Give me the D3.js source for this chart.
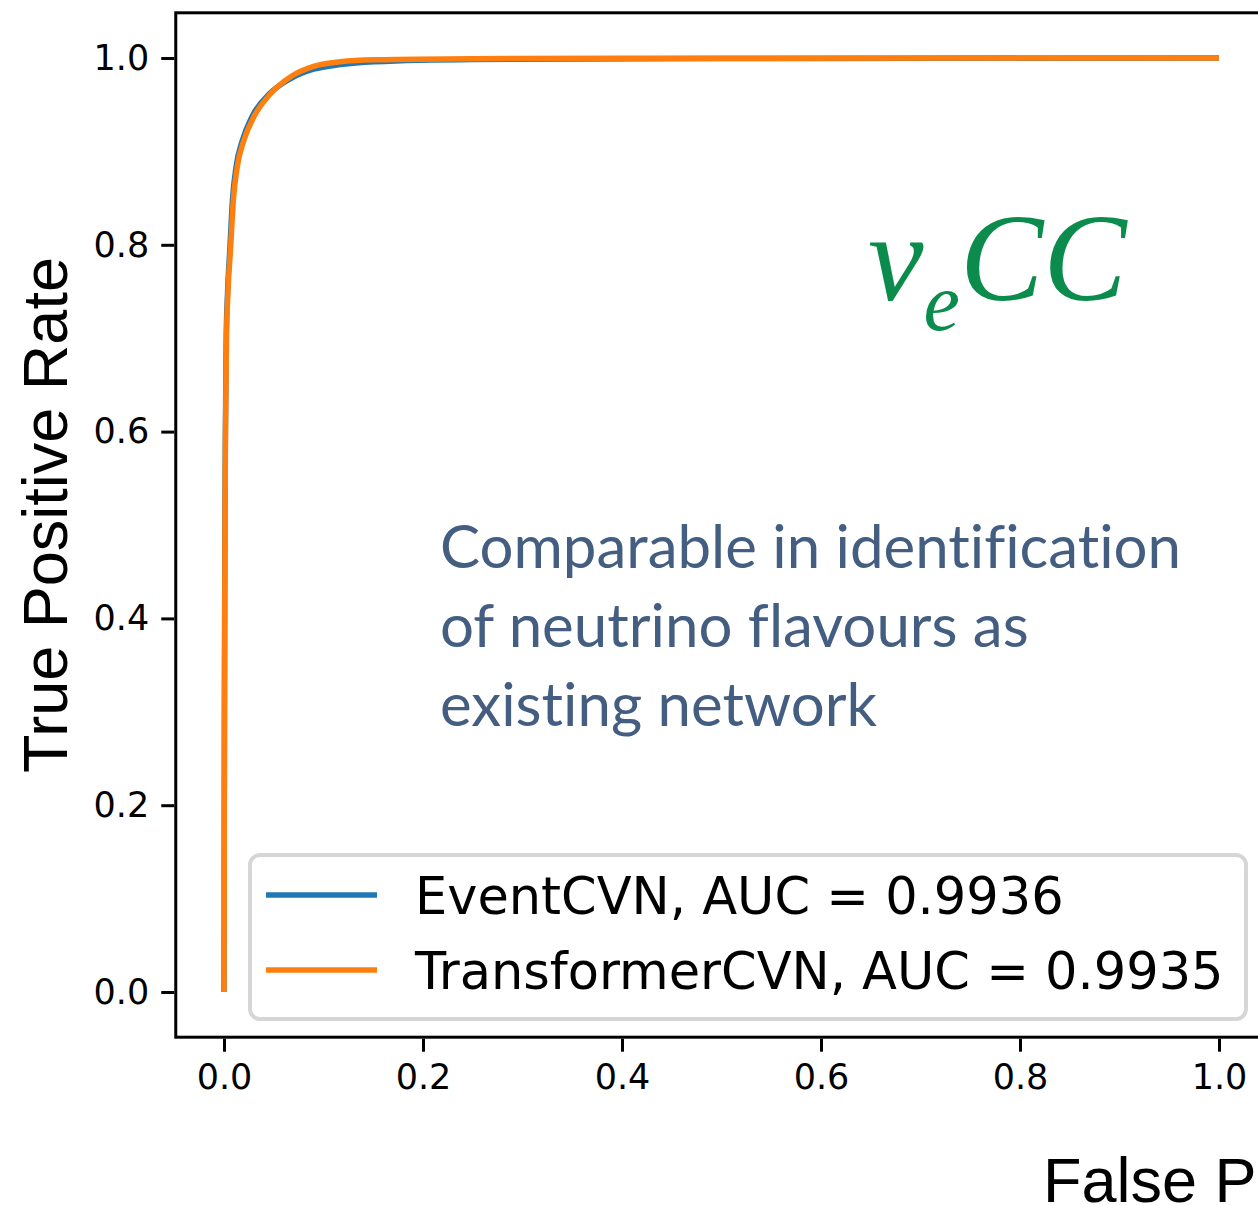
<!DOCTYPE html>
<html>
<head>
<meta charset="utf-8">
<script src="https://cdn.jsdelivr.net/npm/d3@7"></script>
<style>
  html, body { margin: 0; padding: 0; background: #fff; overflow: hidden; }
  svg { display: block; }
</style>
</head>
<body>
<svg id="chart" width="1258" height="1205"></svg>
<script>
// ---- data ----
const seriesNames = ["EventCVN", "TransformerCVN"];
const aucValues = ["0.9936", "0.9935"];
const seriesColors = ["#1f77b4", "#ff7f0e"];

const eventFpr = [0, 0.0004, 0.0009, 0.0014, 0.0022, 0.0036, 0.006, 0.0085, 0.0122, 0.0185, 0.028, 0.046, 0.067, 0.090, 0.117, 0.151, 0.25, 0.5, 1.0];
const eventTpr = [0, 0.3, 0.5, 0.6, 0.7, 0.75, 0.798, 0.848, 0.884, 0.912, 0.937, 0.962, 0.978, 0.988, 0.993, 0.996, 0.9985, 0.9995, 1.0];

const transFpr = [0, 0.0005, 0.001, 0.0015, 0.0025, 0.004, 0.0067, 0.0094, 0.0134, 0.020, 0.030, 0.047, 0.067, 0.090, 0.117, 0.151, 0.25, 0.5, 1.0];
const transTpr = [0, 0.3, 0.5, 0.6, 0.7, 0.75, 0.798, 0.848, 0.884, 0.912, 0.937, 0.962, 0.980, 0.991, 0.996, 0.998, 0.9993, 0.9998, 1.0];

const xTicks = [0.0, 0.2, 0.4, 0.6, 0.8, 1.0];
const yTicks = [0.0, 0.2, 0.4, 0.6, 0.8, 1.0];

const annotationLines = ["Comparable in identification", "of neutrino flavours as", "existing network"];

// ---- layout ----
const svg = d3.select("#chart");
const pLeft = 174.25, pRight = 1268.75, pTop = 11.3, pBottom = 1038.7;

const x = d3.scaleLinear().domain([-0.05, 1.05]).range([pLeft, pRight]);
const y = d3.scaleLinear().domain([-0.05, 1.05]).range([pBottom, pTop]);

const tickFont = "DejaVu Sans, sans-serif";

// axes
const xAxis = d3.axisBottom(x).tickValues(xTicks).tickFormat(d3.format(".1f")).tickSize(13).tickPadding(12);
const yAxis = d3.axisLeft(y).tickValues(yTicks).tickFormat(d3.format(".1f")).tickSize(13).tickPadding(12);

const gx = svg.append("g").attr("transform", `translate(0,${pBottom})`).call(xAxis);
const gy = svg.append("g").attr("transform", `translate(${pLeft},0)`).call(yAxis);
[gx, gy].forEach(g => {
  g.select(".domain").remove();
  g.selectAll(".tick line").attr("stroke", "#000").attr("stroke-width", 3);
  g.selectAll(".tick text").attr("fill", "#000").style("font-family", tickFont).style("font-size", "35px");
});

// curves
const line = d3.line().curve(d3.curveMonotoneX).x(d => x(d[0])).y(d => y(d[1]));
const curves = [
  d3.zip(eventFpr, eventTpr),
  d3.zip(transFpr, transTpr)
];
svg.append("clipPath").attr("id", "plotclip").append("rect")
  .attr("x", pLeft).attr("y", pTop).attr("width", pRight - pLeft).attr("height", pBottom - pTop);
curves.forEach((c, i) => {
  svg.append("path").datum(c)
    .attr("d", line)
    .attr("fill", "none")
    .attr("stroke", seriesColors[i])
    .attr("stroke-width", 5.5)
    .attr("stroke-linejoin", "round")
    .attr("clip-path", "url(#plotclip)");
});

// frame
svg.append("rect")
  .attr("x", pLeft + 1.5).attr("y", pTop + 1.5)
  .attr("width", pRight - pLeft - 3).attr("height", pBottom - pTop - 3)
  .attr("fill", "none").attr("stroke", "#000").attr("stroke-width", 3);

// green label
const green = svg.append("text")
  .attr("x", 868).attr("y", 300)
  .attr("fill", "#0b8c4c")
  .style("font-family", "Liberation Serif, Times New Roman, serif")
  .style("font-style", "italic")
  .style("font-size", "125px");
green.append("tspan").text("\u03BD");
green.append("tspan").attr("dy", 30).style("font-size", "82px").text("e");
green.append("tspan").attr("dy", -30).text("CC");

// annotation text
const ann = svg.append("text")
  .attr("fill", "#435e80")
  .style("font-family", "Lato, Open Sans, sans-serif")
  .style("font-variant-ligatures", "none")
  .style("font-size", "60px");
annotationLines.forEach((t, i) => {
  ann.append("tspan").attr("x", 440).attr("y", 568 + i * 79).text(t);
});

// legend
const lg = svg.append("g");
lg.append("rect")
  .attr("x", 250).attr("y", 855).attr("width", 996).attr("height", 164)
  .attr("rx", 10).attr("ry", 10)
  .attr("fill", "#fff").attr("fill-opacity", 0.8)
  .attr("stroke", "#d6d6d6").attr("stroke-width", 4);
seriesNames.forEach((n, i) => {
  const cy = 895 + i * 75;
  lg.append("line")
    .attr("x1", 266).attr("x2", 377).attr("y1", cy).attr("y2", cy)
    .attr("stroke", seriesColors[i]).attr("stroke-width", 5.5);
  lg.append("text")
    .attr("x", 415).attr("y", cy + 19)
    .attr("fill", "#000")
    .style("font-family", tickFont)
    .style("font-size", "51px")
    .text(`${n}, AUC = ${aucValues[i]}`);
});

// axis labels
svg.append("text")
  .attr("transform", "translate(67,515) rotate(-90)")
  .attr("text-anchor", "middle")
  .attr("fill", "#000")
  .style("font-family", "Liberation Sans, Arial, sans-serif")
  .style("font-size", "63px")
  .text("True Positive Rate");

svg.append("text")
  .attr("x", 1043).attr("y", 1202)
  .attr("fill", "#000")
  .style("font-family", "Liberation Sans, Arial, sans-serif")
  .style("font-size", "63px")
  .text("False Positive Rate");
</script>
</body>
</html>
